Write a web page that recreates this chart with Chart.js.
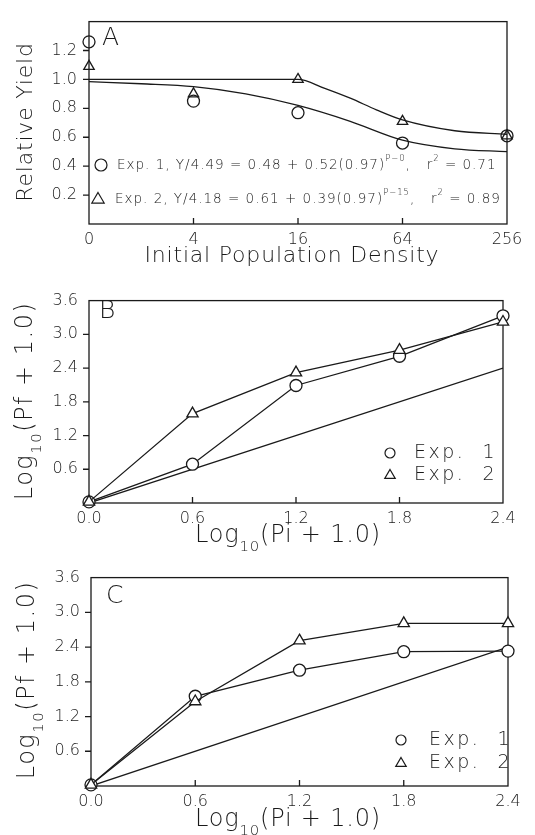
<!DOCTYPE html>
<html lang="en">
<head>
<meta charset="UTF-8">
<title>Relative yield and final population</title>
<script src="https://cdn.jsdelivr.net/npm/chart.js"></script>
<style>
  body { margin: 0; background: #fff; }
  canvas { position: absolute; left: 0; }
</style>
</head>
<body>
<canvas id="chartA" width="535" height="270" style="top:0px"></canvas>
<canvas id="chartB" width="535" height="275" style="top:280px"></canvas>
<canvas id="chartC" width="535" height="278" style="top:557px"></canvas>

<script>
// Panel A: relative yield vs initial population density (log4 positions)
const densityLabels = ["0", "4", "16", "64", "256"];
const densityPos = [0, 1, 2, 3, 4];
const yieldExp1 = [1.26, 0.85, 0.77, 0.56, 0.61];
const yieldExp2 = [1.09, 0.90, 1.00, 0.71, 0.61];
// fitted curves
const fitPos1 = [0, 0.5, 1, 1.5, 2, 2.5, 3, 3.5, 4];
const fitExp1 = [0.985, 0.97, 0.95, 0.90, 0.82, 0.71, 0.58, 0.52, 0.50];
const fitPos2 = [0, 1, 2, 2.25, 2.5, 2.75, 3, 3.5, 4];
const fitExp2 = [1.00, 1.00, 1.00, 0.94, 0.87, 0.79, 0.72, 0.645, 0.62];

// Panels B and C: log10(Pf + 1) vs log10(Pi + 1)
const logPi = [0, 0.6, 1.2, 1.8, 2.4];
const bExp1 = [0.02, 0.69, 2.09, 2.61, 3.33];
const bExp2 = [0.02, 1.59, 2.32, 2.72, 3.22];
const cExp1 = [0.02, 1.55, 2.00, 2.32, 2.33];
const cExp2 = [0.02, 1.46, 2.51, 2.81, 2.81];
const unityX = [0, 2.4];
const unityY = [0, 2.4];

const FONT = "'DejaVu Sans', sans-serif";
const INK = "#1a1a1a";

function toXY(xs, ys) {
    return xs.map((x, i) => ({ x: x, y: ys[i] }));
}

// draw text made of normal / superscript / subscript parts
function setFont(ctx, p, size, spacing) {
    ctx.font = "200 " + ((p.sup || p.sub) ? size * 0.62 : size) + "px " + FONT;
    ctx.letterSpacing = (spacing || 0) + "px";
}
function richWidth(ctx, parts, size, spacing) {
    let w = 0;
    parts.forEach(p => {
        setFont(ctx, p, size, spacing);
        w += ctx.measureText(p.t).width;
    });
    return w;
}
function drawRich(ctx, x, y, parts, size, spacing) {
    parts.forEach(p => {
        setFont(ctx, p, size, spacing);
        let dy = p.sup ? -size * 0.48 : (p.sub ? size * 0.38 : 0);
        ctx.fillText(p.t, x, y + dy);
        x += ctx.measureText(p.t).width;
    });
}
function drawRichCentered(ctx, cx, y, parts, size, spacing, angle) {
    ctx.save();
    ctx.translate(cx, y);
    if (angle) ctx.rotate(angle);
    ctx.textBaseline = "alphabetic";
    ctx.textAlign = "left";
    let w = richWidth(ctx, parts, size, spacing);
    drawRich(ctx, -w / 2, 0, parts, size, spacing);
    ctx.restore();
}

function marker(ctx, style, x, y, r) {
    ctx.beginPath();
    if (style === "circle") {
        ctx.arc(x, y, r, 0, Math.PI * 2);
    } else {
        ctx.moveTo(x, y - r);
        ctx.lineTo(x + r * 0.95, y + r * 0.62);
        ctx.lineTo(x - r * 0.95, y + r * 0.62);
        ctx.closePath();
    }
    ctx.stroke();
}

// box around the plot, x ticks pointing in, y ticks pointing out
const framePlugin = {
    id: "frame",
    beforeDatasetsDraw(chart) {
        const ctx = chart.ctx;
        const a = chart.chartArea;
        ctx.save();
        ctx.strokeStyle = INK;
        ctx.lineWidth = 1.3;
        ctx.strokeRect(a.left, a.top, a.right - a.left, a.bottom - a.top);
        const xs = chart.scales.x, ys = chart.scales.y;
        ctx.beginPath();
        xs.ticks.forEach(t => {
            const px = xs.getPixelForValue(t.value);
            if (px > a.left + 2 && px < a.right - 2) {
                ctx.moveTo(px, a.bottom);
                ctx.lineTo(px, a.bottom - 6);
            }
        });
        ys.ticks.forEach(t => {
            const py = ys.getPixelForValue(t.value);
            if (py > a.top + 2 && py < a.bottom - 2) {
                ctx.moveTo(a.left, py);
                ctx.lineTo(a.left - 6, py);
            }
        });
        ctx.stroke();
        ctx.restore();
    },
    afterDraw(chart) {
        const deco = chart.options.plugins.deco;
        if (!deco) return;
        const ctx = chart.ctx;
        ctx.save();
        ctx.fillStyle = INK;
        ctx.strokeStyle = INK;
        ctx.lineWidth = 1.2;
        // panel letter
        ctx.font = "200 25px " + FONT;
        ctx.fillText(deco.letter[0], deco.letter[1], deco.letter[2]);
        // axis titles
        const xt = deco.xTitle, yt = deco.yTitle;
        drawRichCentered(ctx, xt.x, xt.y, xt.parts, xt.size, xt.spacing, 0);
        drawRichCentered(ctx, yt.x, yt.y, yt.parts, yt.size, yt.spacing, -Math.PI / 2);
        // legend entries
        deco.legend.forEach(e => {
            marker(ctx, e.style, e.mx, e.my, e.r);
            ctx.textBaseline = "middle";
            drawRich(ctx, e.tx, e.my, e.parts, e.size, e.spacing);
        });
        ctx.restore();
    }
};

function fixedAxis(size, horizontal) {
    return function (scale) {
        if (horizontal) scale.height = size; else scale.width = size;
    };
}

function pointSet(data, style, r, fill, line) {
    return {
        data: data,
        showLine: line,
        borderColor: INK,
        borderWidth: 1.3,
        pointStyle: style,
        pointRadius: r,
        pointBorderWidth: 1.3,
        pointBackgroundColor: fill,
        pointBorderColor: INK,
        clip: false,
        order: 1
    };
}

function baseOptions(pad, yWidth, xHeight, xCfg, yCfg, deco) {
    return {
        responsive: false,
        animation: false,
        devicePixelRatio: 1,
        layout: { padding: pad },
        plugins: { legend: { display: false }, tooltip: { enabled: false }, deco: deco },
        scales: {
            x: Object.assign({
                type: "linear",
                grid: { display: false, drawTicks: false },
                border: { display: false },
                afterFit: fixedAxis(xHeight, true)
            }, xCfg),
            y: Object.assign({
                type: "linear",
                grid: { display: false, drawTicks: false },
                border: { display: false },
                afterFit: fixedAxis(yWidth, false)
            }, yCfg)
        }
    };
}

const tickFont = { family: FONT, size: 16, weight: 200 };
const logTitle = (v) => [{ t: "Log" }, { t: "10", sub: true }, { t: "(" + v + " + 1.0)" }];

// ---------- Panel A ----------
new Chart(document.getElementById("chartA"), {
    type: "scatter",
    data: {
        datasets: [
            { data: toXY(fitPos1, fitExp1), showLine: true, borderColor: INK, borderWidth: 1.3,
              pointRadius: 0, cubicInterpolationMode: "monotone", order: 2 },
            { data: toXY(fitPos2, fitExp2), showLine: true, borderColor: INK, borderWidth: 1.3,
              pointRadius: 0, cubicInterpolationMode: "monotone", order: 2 },
            pointSet(toXY(densityPos, yieldExp1), "circle", 6, "rgba(0,0,0,0)", false),
            pointSet(toXY(densityPos, yieldExp2), "triangle", 6, "rgba(0,0,0,0)", false)
        ]
    },
    options: baseOptions(
        { top: 15, right: 28, left: 0, bottom: 0 }, 89, 46,
        { min: 0, max: 4,
          ticks: { stepSize: 1, padding: 6, color: INK, font: tickFont, maxRotation: 0,
                   callback: v => densityLabels[v] } },
        { min: 0, max: 1.4,
          ticks: { stepSize: 0.2, padding: 12, color: INK, font: tickFont,
                   callback: v => (v > 0.01 && v < 1.39) ? v.toFixed(1) : "" } },
        {
            letter: ["A", 102, 45],
            xTitle: { x: 292, y: 262, size: 22, spacing: 0.8, parts: [{ t: "Initial Population Density" }] },
            yTitle: { x: 32, y: 122, size: 22, spacing: 0.8, parts: [{ t: "Relative Yield" }] },
            legend: [
                { style: "circle", mx: 101, my: 165, r: 6, tx: 117, size: 13.5, spacing: 1,
                  parts: [{ t: "Exp. 1, Y/4.49 = 0.48 + 0.52(0.97)" }, { t: "P\u22120", sup: true },
                          { t: ",   r" }, { t: "2", sup: true }, { t: " = 0.71" }] },
                { style: "triangle", mx: 98, my: 199, r: 6.5, tx: 115, size: 13.5, spacing: 1,
                  parts: [{ t: "Exp. 2, Y/4.18 = 0.61 + 0.39(0.97)" }, { t: "P\u221215", sup: true },
                          { t: ",   r" }, { t: "2", sup: true }, { t: " = 0.89" }] }
            ]
        }
    ),
    plugins: [framePlugin]
});

// ---------- Panels B and C ----------
function logPanel(id, e1, e2, pad, yWidth, xHeight, letter, xTitleY, yTitleX, yTitleY, legend) {
    new Chart(document.getElementById(id), {
        type: "scatter",
        data: {
            datasets: [
                { data: toXY(unityX, unityY), showLine: true, borderColor: INK, borderWidth: 1.3,
                  pointRadius: 0, order: 3 },
                pointSet(toXY(logPi, e2), "triangle", 6.5, "#fff", true),
                pointSet(toXY(logPi, e1), "circle", 6, "#fff", true)
            ]
        },
        options: baseOptions(
            pad, yWidth, xHeight,
            { min: 0, max: 2.4,
              ticks: { stepSize: 0.6, padding: 6, color: INK, font: tickFont, maxRotation: 0,
                       callback: v => v.toFixed(1) } },
            { min: 0, max: 3.6,
              ticks: { stepSize: 0.6, padding: 11, color: INK, font: tickFont,
                       callback: v => v > 0.01 ? v.toFixed(1) : "" } },
            {
                letter: letter,
                xTitle: { x: 288, y: xTitleY, size: 24, spacing: 0.8, parts: logTitle("Pi") },
                yTitle: { x: yTitleX, y: yTitleY, size: 24, spacing: 1.5, parts: logTitle("Pf") },
                legend: legend
            }
        ),
        plugins: [framePlugin]
    });
}

logPanel("chartB", bExp1, bExp2, { top: 15, right: 32, left: 0, bottom: 0 }, 89, 52,
    ["B", 99, 38], 262, 32, 121,
    [
        { style: "circle", mx: 390, my: 173, r: 5, tx: 414, size: 19, spacing: 2.5, parts: [{ t: "Exp.  1" }] },
        { style: "triangle", mx: 390, my: 195, r: 5.5, tx: 414, size: 19, spacing: 2.5, parts: [{ t: "Exp.  2" }] }
    ]);

logPanel("chartC", cExp1, cExp2, { top: 15, right: 27, left: 0, bottom: 0 }, 91, 49,
    ["C", 106, 46], 269, 34, 123,
    [
        { style: "circle", mx: 401, my: 183, r: 5, tx: 429, size: 19, spacing: 2.5, parts: [{ t: "Exp.  1" }] },
        { style: "triangle", mx: 401, my: 206, r: 5.5, tx: 429, size: 19, spacing: 2.5, parts: [{ t: "Exp.  2" }] }
    ]);
</script>
</body>
</html>
